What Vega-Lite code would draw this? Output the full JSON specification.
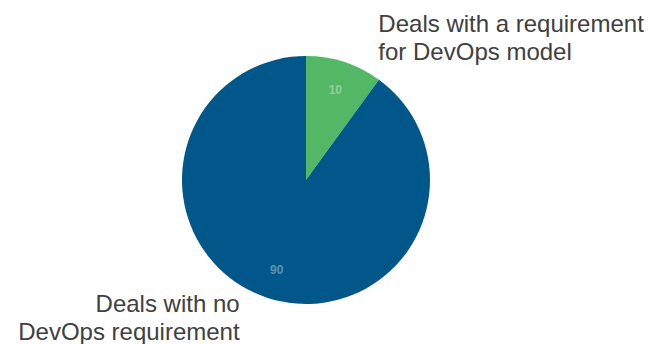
{
  "$schema": "https://vega.github.io/schema/vega-lite/v6.json",
  "width": 612,
  "height": 328,
  "autosize": "none",
  "padding": {"left": 0, "top": 16, "right": 38, "bottom": 0},
  "background": "white",
  "data": {
    "values": [
      {"category": "Deals with a requirement\nfor DevOps model", "share": 10, "order": 1, "side": "right"},
      {"category": "Deals with no\nDevOps requirement", "share": 90, "order": 2, "side": "left"}
    ]
  },
  "encoding": {
    "theta": {"field": "share", "type": "quantitative", "stack": true},
    "order": {"field": "order", "type": "quantitative"}
  },
  "layer": [
    {
      "mark": {"type": "arc", "outerRadius": 124},
      "encoding": {
        "color": {
          "field": "category",
          "type": "nominal",
          "scale": {
            "domain": ["Deals with a requirement\nfor DevOps model", "Deals with no\nDevOps requirement"],
            "range": ["#52b865", "#01568a"]
          },
          "legend": null
        }
      }
    },
    {
      "mark": {"type": "text", "radius": 95, "fontSize": 12, "font": "Liberation Sans", "color": "white", "opacity": 0.35, "fontWeight": "bold"},
      "encoding": {"text": {"field": "share", "type": "quantitative"}}
    },
    {
      "mark": {"type": "text", "radius": 150, "align": "left", "baseline": "middle", "dx": 26, "dy": -12, "fontSize": 24, "lineHeight": 28, "lineBreak": "\n", "font": "Liberation Sans", "color": "#404040"},
      "encoding": {"text": {"condition": {"test": "datum.side === 'right'", "field": "category"}, "value": ""}}
    },
    {
      "mark": {"type": "text", "radius": 150, "align": "right", "baseline": "middle", "dx": -20, "dy": -18, "fontSize": 24, "lineHeight": 28, "lineBreak": "\n", "font": "Liberation Sans", "color": "#404040"},
      "encoding": {"text": {"condition": {"test": "datum.side === 'left'", "field": "category"}, "value": ""}}
    }
  ],
  "config": {"view": {"stroke": null}}
}
